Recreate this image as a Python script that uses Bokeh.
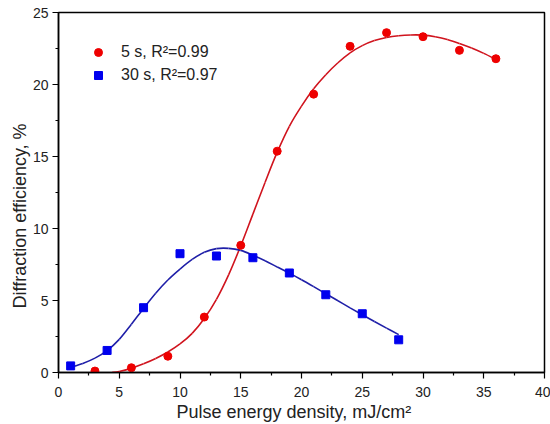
from bokeh.plotting import figure
from bokeh.models import Range1d, FixedTicker, Legend, LegendItem, Title
from bokeh.embed import file_html
from bokeh.resources import INLINE

# measured points
x_5s = [3, 6, 9, 12, 15, 18, 21, 24, 27, 30, 33, 36]
y_5s = [0.1, 0.33, 1.13, 3.85, 8.83, 15.37, 19.33, 22.65, 23.6, 23.32, 22.37, 21.79]
x_30s = [1, 4, 7, 10, 13, 16, 19, 22, 25, 28]
y_30s = [0.46, 1.53, 4.5, 8.25, 8.09, 7.97, 6.91, 5.4, 4.08, 2.27]

# fitted curves
fit_5s_x = [4.4, 5, 6, 7, 8, 9, 10, 11, 12, 13, 14, 15, 16, 17, 18, 19, 20, 21, 22,
            23, 24, 25, 26, 27, 28, 29, 30, 31, 32, 33, 34, 35, 36]
fit_5s_y = [0.0, 0.07, 0.3, 0.6, 0.97, 1.42, 1.98, 2.72, 3.75, 5.08, 6.78, 8.8, 11.0,
            13.2, 15.3, 17.1, 18.5, 19.7, 20.68, 21.51, 22.2, 22.7, 23.05, 23.27, 23.39,
            23.44, 23.43, 23.32, 23.13, 22.85, 22.53, 22.16, 21.75]
fit_30s_x = [1, 2, 3, 4, 5, 6, 7, 8, 9, 10, 11, 12, 13, 14, 15, 16, 17, 18, 19, 20,
             21, 22, 23, 24, 25, 26, 27, 28]
fit_30s_y = [0.37, 0.63, 1.0, 1.52, 2.3, 3.35, 4.45, 5.5, 6.42, 7.18, 7.85, 8.35, 8.6,
             8.62, 8.48, 8.15, 7.76, 7.33, 6.9, 6.44, 5.96, 5.47, 4.98, 4.49, 4.01, 3.54,
             3.08, 2.63]

x_ticks = [0, 5, 10, 15, 20, 25, 30, 35, 40]
y_ticks = [0, 5, 10, 15, 20, 25]

label_5s = "5 s, R²=0.99"
label_30s = "30 s, R²=0.97"
x_title = "Pulse energy density, mJ/cm²"
y_title = "Diffraction efficiency, %"

FONT = "Liberation Sans"


def smooth_segments(xs, ys):
    """Catmull-Rom through the read curve points, as cubic Bezier segments."""
    n = len(xs)
    px = [xs[0]] + list(xs) + [xs[-1]]
    py = [ys[0]] + list(ys) + [ys[-1]]
    seg = dict(x0=[], y0=[], x1=[], y1=[], cx0=[], cy0=[], cx1=[], cy1=[])
    for i in range(1, n):
        x0, y0 = px[i], py[i]
        x1, y1 = px[i + 1], py[i + 1]
        seg["x0"].append(x0)
        seg["y0"].append(y0)
        seg["x1"].append(x1)
        seg["y1"].append(y1)
        seg["cx0"].append(x0 + (x1 - px[i - 1]) / 6.0)
        seg["cy0"].append(y0 + (y1 - py[i - 1]) / 6.0)
        seg["cx1"].append(x1 - (px[i + 2] - x0) / 6.0)
        seg["cy1"].append(y1 - (py[i + 2] - y0) / 6.0)
    return seg


p = figure(width=550, height=424, x_range=Range1d(0, 40), y_range=Range1d(0, 25),
           output_backend="svg", toolbar_location=None,
           min_border_left=58, min_border_right=6, min_border_top=12, min_border_bottom=52)

p.xgrid.visible = False
p.ygrid.visible = False
p.outline_line_color = "black"
p.outline_line_width = 1.5
p.background_fill_color = "white"
p.border_fill_color = "white"

p.xaxis.ticker = FixedTicker(ticks=x_ticks, minor_ticks=[t + 2.5 for t in x_ticks[:-1]])
p.yaxis.ticker = FixedTicker(ticks=y_ticks, minor_ticks=[t + 2.5 for t in y_ticks[:-1]])

for ax in (p.xaxis[0], p.yaxis[0]):
    ax.axis_line_width = 1.5
    ax.axis_line_color = "black"
    ax.major_tick_in = 0
    ax.major_tick_out = 6
    ax.minor_tick_in = 0
    ax.minor_tick_out = 3
    ax.major_tick_line_width = 1.2
    ax.minor_tick_line_width = 1.2
    ax.major_label_text_font = FONT
    ax.major_label_text_font_size = "14px"
    ax.major_label_text_color = "#222222"

p.xaxis.major_label_standoff = 8
p.yaxis.major_label_standoff = 4

ytitle = Title(text=y_title, align="left", offset=64, standoff=0,
               text_font=FONT, text_font_size="18px", text_font_style="normal",
               text_color="#222222")
p.add_layout(ytitle, "left")

xtitle = Title(text=x_title, align="left", offset=118, standoff=0,
               text_font=FONT, text_font_size="18px", text_font_style="normal",
               text_color="#222222")
p.add_layout(xtitle, "below")

red_seg = smooth_segments(fit_5s_x, fit_5s_y)
blue_seg = smooth_segments(fit_30s_x, fit_30s_y)
p.bezier(line_color="#D0141E", line_width=1.6, **red_seg)
p.bezier(line_color="#1F1FA8", line_width=1.6, **blue_seg)

r1 = p.scatter(x_5s, y_5s, marker="circle", size=8, fill_color="#EE0000", line_color="#EE0000")
r2 = p.scatter(x_30s, y_30s, marker="square", size=8, fill_color="#0000EE", line_color="#0000EE")

legend = Legend(items=[LegendItem(label=label_5s, renderers=[r1]),
                       LegendItem(label=label_30s, renderers=[r2])],
                location="top_left", margin=20, padding=10, spacing=3,
                glyph_width=20, glyph_height=20, label_standoff=13,
                border_line_alpha=0, background_fill_alpha=0,
                label_text_font=FONT, label_text_font_size="16px",
                label_text_color="#222222")
p.add_layout(legend)

open("out.html", "w").write(file_html(p, INLINE))
